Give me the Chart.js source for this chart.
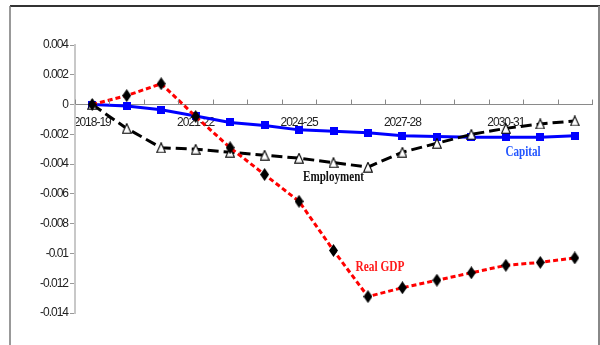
<!DOCTYPE html>
<html>
<head>
<meta charset="utf-8">
<script src="https://cdn.jsdelivr.net/npm/chart.js@4.4.1/dist/chart.umd.min.js"></script>
<style>
  html, body { margin: 0; padding: 0; background: #ffffff; }
  #wrap { width: 600px; height: 345px; position: relative; }
</style>
</head>
<body>
<div id="wrap"><canvas id="c" width="600" height="345"></canvas></div>
<script>
// ---- data ----
const categories = ['2018-19','2019-20','2020-21','2021-22','2022-23','2023-24','2024-25','2025-26','2026-27','2027-28','2028-29','2029-30','2030-31','2031-32','2032-33'];
const shownXLabels = ['2018-19','2021-22','2024-25','2027-28','2030-31'];
const realGDP    = [0, 0.0006, 0.0014, -0.0008, -0.0029, -0.0047, -0.0065, -0.0098, -0.0129, -0.0123, -0.0118, -0.0113, -0.0108, -0.0106, -0.0103];
const capital    = [0, -0.0001, -0.00035, -0.00077, -0.0012, -0.0014, -0.0017, -0.0018, -0.0019, -0.0021, -0.00215, -0.0022, -0.0022, -0.0022, -0.0021];
const employment = [0, -0.0016, -0.0029, -0.0030, -0.0032, -0.0034, -0.0036, -0.0039, -0.0042, -0.0032, -0.0026, -0.0020, -0.0016, -0.0013, -0.0011];
const yMin = -0.014, yMax = 0.004, yStep = 0.002;
const seriesLabels = ['Real GDP', 'Capital', 'Employment'];

// ---- marker images ----
function makeDiamond() {
  const c = document.createElement('canvas'); c.width = 9; c.height = 13;
  const g = c.getContext('2d');
  g.fillStyle = '#000'; g.beginPath();
  g.moveTo(4.5, 0); g.lineTo(9, 6.5); g.lineTo(4.5, 13); g.lineTo(0, 6.5); g.closePath(); g.fill();
  return c;
}
function makeSquare() {
  const c = document.createElement('canvas'); c.width = 8; c.height = 8;
  const g = c.getContext('2d'); g.fillStyle = '#0000ff'; g.fillRect(0, 0, 8, 8);
  return c;
}
function makeTriangle() {
  const c = document.createElement('canvas'); c.width = 10; c.height = 11;
  const g = c.getContext('2d');
  g.fillStyle = '#fff'; g.strokeStyle = '#000'; g.lineWidth = 1.1;
  g.beginPath(); g.moveTo(5, 0.7); g.lineTo(9.3, 10.3); g.lineTo(0.7, 10.3); g.closePath();
  g.fill(); g.stroke();
  return c;
}

const framePlugin = {
  id: 'frame',
  beforeDraw(chart) {
    const ctx = chart.ctx;
    ctx.save();
    ctx.fillStyle = '#fff'; ctx.fillRect(0, 0, chart.width, chart.height);
    ctx.strokeStyle = '#333'; ctx.lineWidth = 2;
    ctx.beginPath(); ctx.moveTo(10, 6); ctx.lineTo(600, 6); ctx.stroke();
    ctx.strokeStyle = '#777'; ctx.lineWidth = 1.5;
    ctx.beginPath(); ctx.moveTo(10, 6); ctx.lineTo(10, 345); ctx.stroke();
    ctx.strokeStyle = '#888'; ctx.lineWidth = 2;
    ctx.beginPath(); ctx.moveTo(599, 6); ctx.lineTo(599, 345); ctx.stroke();
    ctx.restore();
    // condensed look for the axis tick text
    if ('letterSpacing' in ctx) ctx.letterSpacing = '-1px';
  },
  afterDraw(chart) {
    const xs = chart.scales.x, ys = chart.scales.y, ctx = chart.ctx;
    const y0 = ys.getPixelForValue(0);
    ctx.save();
    ctx.strokeStyle = '#888'; ctx.lineWidth = 1;
    for (let i = 0; i <= categories.length; i++) {
      const x = Math.round(xs.getPixelForValue(i - 0.5)) + 0.5;
      ctx.beginPath(); ctx.moveTo(x, y0 - 5); ctx.lineTo(x, y0); ctx.stroke();
    }
    ctx.restore();
  }
};

const annotations = [
  { text: 'Employment', idx: 7,    val: -0.0049,  color: '#111111', font: 'bold 15px "Liberation Serif", "Times New Roman", serif', sx: 0.74 },
  { text: 'Capital',    idx: 12.5, val: -0.00318, color: '#2255ff', font: 'bold 15px "Liberation Serif", "Times New Roman", serif', sx: 0.74 },
  { text: 'Real GDP',   idx: 8.35, val: -0.0109,  color: '#ff1a1a', font: 'bold 15px "Liberation Serif", "Times New Roman", serif', sx: 0.76 }
];
const labelPlugin = {
  id: 'seriesLabels',
  afterDatasetsDraw(chart) {
    const xs = chart.scales.x, ys = chart.scales.y, ctx = chart.ctx;
    annotations.forEach(a => {
      const x = xs.getPixelForValue(a.idx), y = ys.getPixelForValue(a.val);
      ctx.save();
      if ('letterSpacing' in ctx) ctx.letterSpacing = '0px';
      ctx.font = a.font; ctx.fillStyle = a.color;
      ctx.textAlign = 'center'; ctx.textBaseline = 'middle';
      ctx.translate(x, y); ctx.scale(a.sx, 1);
      ctx.fillText(a.text, 0, 0);
      ctx.restore();
    });
  }
};

const tickFont = { family: '"Liberation Sans Narrow", "Arial Narrow", "Liberation Sans", Arial, sans-serif', size: 12 };

new Chart(document.getElementById('c'), {
  type: 'line',
  data: {
    labels: categories,
    datasets: [
      { label: seriesLabels[0], data: realGDP, borderColor: '#ff0000', borderWidth: 3, borderDash: [5, 3],
        pointStyle: makeDiamond(), pointRadius: 5, order: 1, fill: false, tension: 0 },
      { label: seriesLabels[2], data: employment, borderColor: '#000000', borderWidth: 3, borderDash: [11, 5],
        pointStyle: makeTriangle(), pointRadius: 5, order: 2, fill: false, tension: 0 },
      { label: seriesLabels[1], data: capital, borderColor: '#0000ff', borderWidth: 3,
        pointStyle: makeSquare(), pointRadius: 4, order: 3, fill: false, tension: 0 }
    ]
  },
  options: {
    responsive: false,
    animation: false,
    layout: { padding: { left: 0, right: 5, top: 45, bottom: 32 } },
    plugins: { legend: { display: false }, tooltip: { enabled: false } },
    scales: {
      x: {
        type: 'category',
        position: { y: 0 },
        offset: true,
        grid: { display: false, drawTicks: false },
        border: { display: true, color: '#8a8a8a', width: 1 },
        ticks: {
          autoSkip: false, maxRotation: 0, minRotation: 0, padding: 11,
          color: '#222', font: tickFont,
          callback: function(v, i) { const l = categories[i]; return shownXLabels.includes(l) ? l : ''; }
        }
      },
      y: {
        min: yMin, max: yMax,
        afterFit(scale) { scale.width = 75; },
        grid: { drawOnChartArea: false, drawTicks: true, tickLength: 5, color: '#999' },
        border: { display: true, color: '#c8c8c8', width: 2 },
        ticks: {
          stepSize: yStep, padding: 2, color: '#222', font: tickFont,
          callback: v => String(Number(Number(v).toFixed(3)))
        }
      }
    }
  },
  plugins: [framePlugin, labelPlugin]
});
</script>
</body>
</html>
